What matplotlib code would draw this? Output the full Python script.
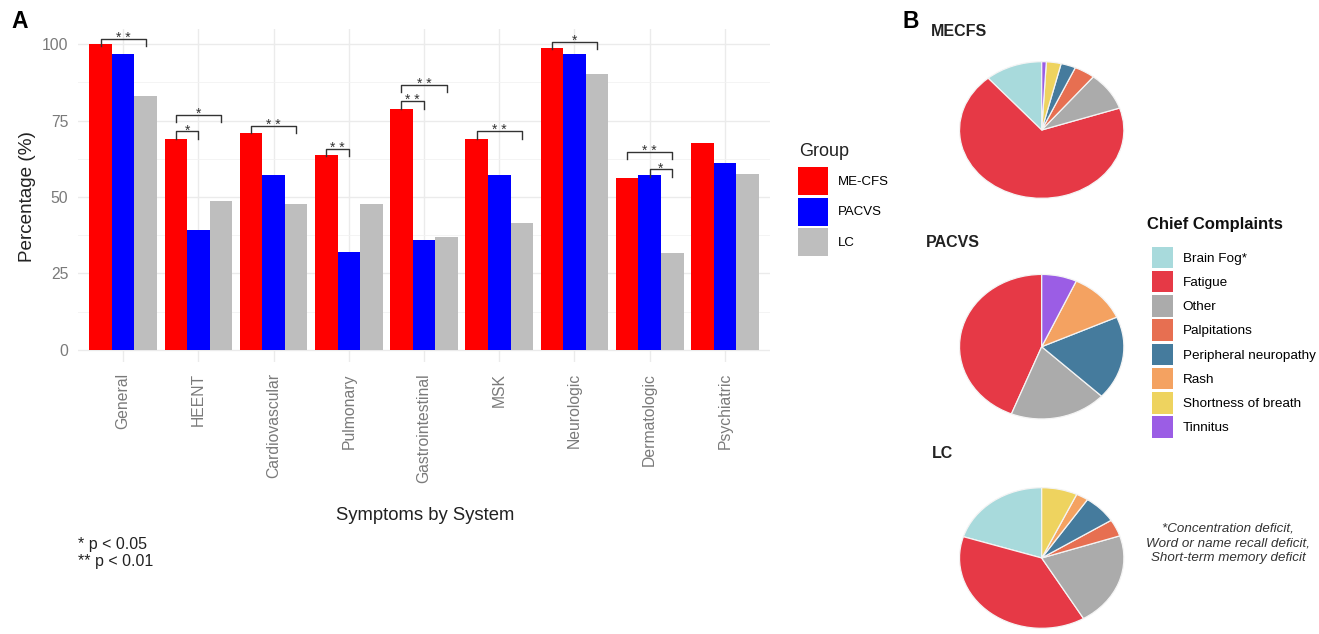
import numpy as np
import matplotlib.pyplot as plt
from matplotlib.patches import Patch

plt.rcParams['font.family'] = ['Liberation Sans', 'DejaVu Sans']

# Panel A: share of patients with symptoms in each system (%)
systems = ['General', 'HEENT', 'Cardiovascular', 'Pulmonary', 'Gastrointestinal',
           'MSK', 'Neurologic', 'Dermatologic', 'Psychiatric']
groups = ['ME-CFS', 'PACVS', 'LC']
mecfs = [100.0, 69.0, 70.8, 63.6, 78.9, 69.1, 98.7, 56.3, 67.8]
pacvs = [96.8, 39.3, 57.3, 32.0, 35.9, 57.3, 96.8, 57.2, 61.0]
lc = [83.0, 48.7, 47.8, 47.8, 36.8, 41.5, 90.3, 31.6, 57.6]
group_colors = ['#FF0000', '#0000FF', '#BEBEBE']

# significance brackets: system, first group, second group, bracket height, label
sig_system = ['General', 'HEENT', 'HEENT', 'Cardiovascular', 'Pulmonary',
              'Gastrointestinal', 'Gastrointestinal', 'MSK', 'Neurologic',
              'Dermatologic', 'Dermatologic']
sig_from = [0, 0, 0, 0, 0, 0, 0, 0, 0, 0, 1]
sig_to = [2, 1, 2, 2, 1, 1, 2, 2, 2, 2, 2]
sig_y = [101.8, 71.5, 77.0, 73.4, 65.8, 81.3, 86.7, 71.5, 100.9, 64.9, 59.1]
sig_label = ['* *', '*', '*', '* *', '* *', '* *', '* *', '* *', '*', '* *', '*']

# Panel B: chief complaints (% of each cohort)
complaints = ['Brain Fog*', 'Fatigue', 'Other', 'Palpitations', 'Peripheral neuropathy',
              'Rash', 'Shortness of breath', 'Tinnitus']
complaint_colors = ['#A8DADC', '#E63946', '#ABABAB', '#E76F51', '#457B9D',
                    '#F4A261', '#EED35F', '#9B5DE5']
pie_mecfs = [11.3, 68.9, 9.0, 4.1, 2.9, 0.0, 2.9, 0.9]
pie_pacvs = [0.0, 44.0, 19.0, 0.0, 18.7, 11.4, 0.0, 6.9]
pie_lc = [20.1, 38.4, 21.6, 3.9, 6.6, 2.4, 7.0, 0.0]

W, H = 1319, 634
fig = plt.figure(figsize=(W / 100, H / 100), dpi=100)

# ---- bar chart ----
ax = fig.add_axes([78 / W, 1 - 362 / H, 692 / W, 333 / H])
x = np.arange(1, len(systems) + 1)
bw = 0.3
for k, (vals, col) in enumerate(zip([mecfs, pacvs, lc], group_colors)):
    ax.bar(x + (k - 1) * bw, vals, width=bw, color=col, zorder=3, label=groups[k])

tip = 2.4
for s, a, b, yy, lab in zip(sig_system, sig_from, sig_to, sig_y, sig_label):
    xc = systems.index(s) + 1
    x0 = xc + (a - 1) * bw
    x1 = xc + (b - 1) * bw
    ax.plot([x0, x0, x1, x1], [yy - tip, yy, yy, yy - tip], color='#333333', lw=1.0, zorder=4)
    ax.text((x0 + x1) / 2, yy + 0.3, lab, ha='center', va='center', fontsize=10,
            color='#333333', zorder=4)

ax.set_xlim(0.4, 9.6)
ax.set_ylim(-4, 105)
ax.set_yticks([0, 25, 50, 75, 100])
ax.set_yticks([12.5, 37.5, 62.5, 87.5], minor=True)
ax.set_xticks(x)
ax.set_xticklabels(systems, rotation=90, va='top', ha='center')
ax.tick_params(axis='both', which='both', length=0, colors='#7A7A7A', labelsize=11.3)
ax.tick_params(axis='y', pad=7)
ax.tick_params(axis='x', pad=8)
ax.grid(True, which='major', color='#EBEBEB', lw=1.0, zorder=0)
ax.grid(True, which='minor', axis='y', color='#F2F2F2', lw=0.6, zorder=0)
for sp in ax.spines.values():
    sp.set_visible(False)

fig.text(28 / W, 1 - 197 / H, 'Percentage (%)', rotation=90, ha='center', va='center',
         fontsize=13.6, color='#222222')
fig.text(425 / W, 1 - 515 / H, 'Symptoms by System', ha='center', va='center',
         fontsize=13.3, color='#222222')
fig.text(78 / W, 1 - 553 / H, '* p < 0.05\n** p < 0.01', ha='left', va='center',
         fontsize=11.5, color='#222222', linespacing=1.22)
fig.text(11 / W, 1 - 21 / H, 'A', ha='left', va='center', fontsize=16.5, fontweight='bold')

# group legend
fig.text(799 / W, 1 - 151 / H, 'Group', ha='left', va='center', fontsize=13, color='#222222')
handles = [Patch(facecolor=c, edgecolor='none') for c in group_colors]
fig.legend(handles, groups, loc='upper left', bbox_to_anchor=(798 / W, 1 - 167 / H),
           frameon=False, borderpad=0, borderaxespad=0, fontsize=9.5,
           handlelength=2.25, handleheight=2.89, labelspacing=0.19, handletextpad=0.76)

# ---- pies ----
fig.text(902 / W, 1 - 22 / H, 'B', ha='left', va='center', fontsize=16.5, fontweight='bold')


def draw_pie(values, box, title, title_xy):
    axp = fig.add_axes([box[0] / W, 1 - box[3] / H, (box[2] - box[0]) / W, (box[3] - box[1]) / H])
    keep = [i for i, v in enumerate(values) if v > 0]
    axp.pie([values[i] for i in keep], colors=[complaint_colors[i] for i in keep],
            startangle=90, counterclock=True, radius=1,
            wedgeprops=dict(edgecolor='#F4F4F4', linewidth=0.9))
    axp.set_aspect('auto')
    axp.set_xlim(-1.01, 1.01)
    axp.set_ylim(-1.01, 1.01)
    axp.axis('off')
    fig.text(title_xy[0] / W, 1 - title_xy[1] / H, title, ha='left', va='center',
             fontsize=11.5, fontweight='bold', color='#222222')


draw_pie(pie_mecfs, (958.7, 61, 1124.7, 199), 'MECFS', (931, 31))
draw_pie(pie_pacvs, (958.7, 273.7, 1124.7, 419.7), 'PACVS', (926, 242.5))
draw_pie(pie_lc, (958.7, 487, 1124.7, 629), 'LC', (932, 453.5))

fig.text(1147 / W, 1 - 225 / H, 'Chief Complaints', ha='left', va='center',
         fontsize=12, fontweight='bold', color='#111111')
chandles = [Patch(facecolor=c, edgecolor='none') for c in complaint_colors]
fig.legend(chandles, complaints, loc='upper left', bbox_to_anchor=(1151.7 / W, 1 - 246.5 / H),
           frameon=False, borderpad=0, borderaxespad=0, fontsize=9.7, handlelength=1.61,
           handleheight=2.1, labelspacing=0.19, handletextpad=0.68)

fig.text(1228 / W, 1 - 543.5 / H,
         '*Concentration deficit,\nWord or name recall deficit,\nShort-term memory deficit',
         ha='center', va='center', fontsize=9.6, style='italic', color='#333333',
         linespacing=1.3)

fig.savefig('out.png', dpi=100)
